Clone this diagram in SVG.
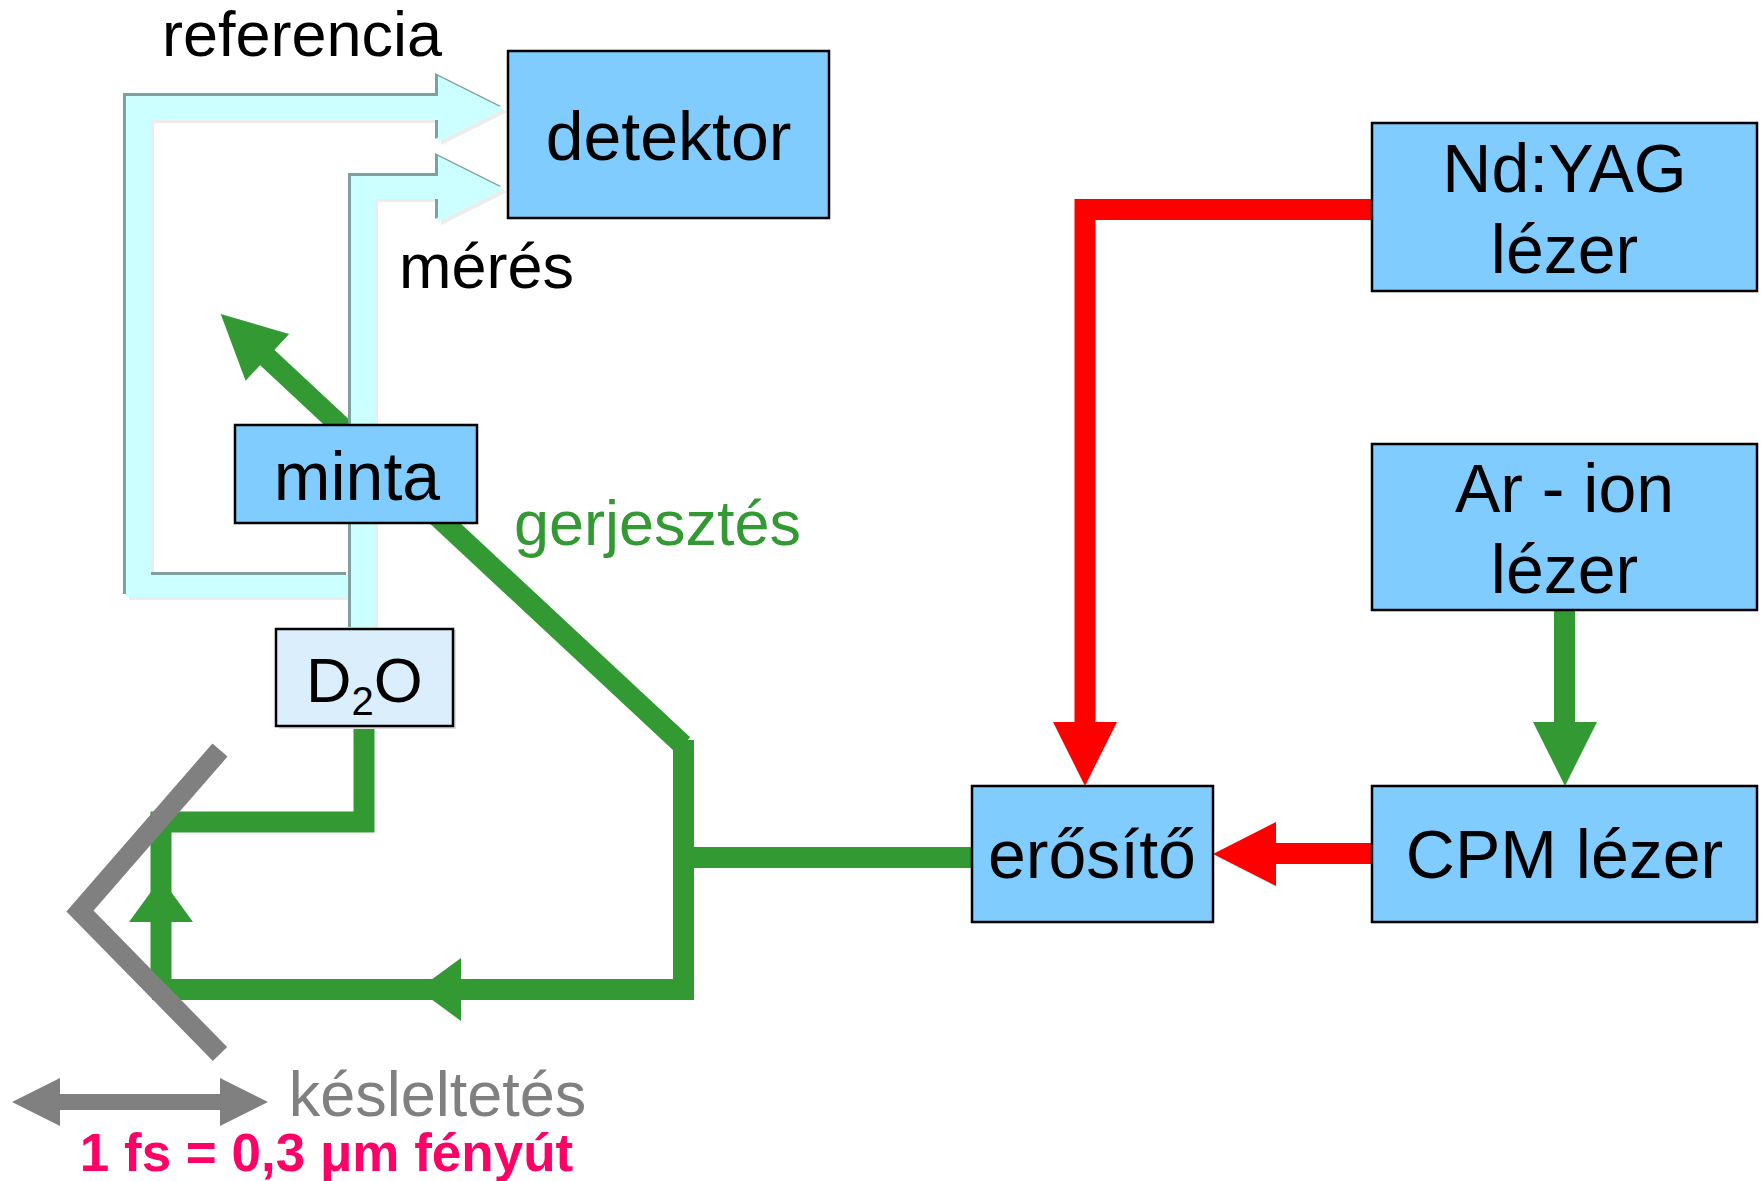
<svg xmlns="http://www.w3.org/2000/svg" width="1762" height="1181" viewBox="0 0 1762 1181">
<style>
  .box { fill: #80CCFF; stroke: #000; stroke-width: 2.5; }
  .boxl { fill: #DAEEFB; stroke: #000; stroke-width: 2.5; }
  .lbl { font-family: "Liberation Sans", Arial, sans-serif; font-size: 68px; fill: #000; text-anchor: middle; }
  .txt { font-family: "Liberation Sans", Arial, sans-serif; font-size: 63px; text-anchor: middle; }
  .g { fill: none; stroke: #339933; stroke-width: 21; stroke-linejoin: miter; stroke-linecap: butt; }
  .gf { fill: #339933; }
  .r { fill: none; stroke: #FF0000; stroke-width: 21; stroke-linejoin: miter; stroke-linecap: butt; }
  .rf { fill: #FF0000; }
  .cy { fill: #CCFFFF; }
  .cyedge { fill: #80A0A0; }
  .cyshadow { fill: #ECECEC; }
</style>
<defs>
  <polygon id="refShape" points="349,575 151,575 151,120 438,120 438,142 504,109 438,76 438,96 126,96 126,597 349,597"/>
  <polygon id="mesShape" points="351,630 351,176 438,176 438,156 504,189 438,222 438,199 375,199 375,630"/>
</defs>

<g id="connectors">
  <!-- green excitation path -->
  <line class="g" x1="258" y1="349" x2="683" y2="745"/>
  <polygon class="gf" points="220.7,314 289.2,333.9 245.6,380.7"/>
  <path class="g" d="M972,857.5 H683.5"/>
  <path class="g" d="M683.5,740 V989.5 H152"/>
  <polygon class="gf" points="418,989.5 461,958 461,1021"/>
  <path class="g" d="M161,989.5 V822 H364 V726"/>
  <polygon class="gf" points="161,878 129,922 193,922"/>
  <!-- Ar-ion to CPM -->
  <path class="g" d="M1564.5,610 V725"/>
  <polygon class="gf" points="1533,722 1597,722 1565,786"/>
  <!-- red paths -->
  <path class="r" d="M1372,209.5 H1085 V725"/>
  <polygon class="rf" points="1053,722 1117,722 1085,786"/>
  <path class="r" d="M1372,853.5 H1270"/>
  <polygon class="rf" points="1276,822 1276,886 1213,854"/>
  <!-- reference beam -->
  <g id="referencia-beam">
    <use href="#refShape" class="cyshadow" transform="translate(3,3)"/>
    <use href="#refShape" class="cyedge" transform="translate(-3,-3)"/>
    <use href="#refShape" class="cy"/>
  </g>
  <!-- measurement beam -->
  <g id="meres-beam">
    <use href="#mesShape" class="cyshadow" transform="translate(3,3)"/>
    <use href="#mesShape" class="cyedge" transform="translate(-3,-3)"/>
    <use href="#mesShape" class="cy"/>
  </g>
</g>

<g id="mirror">
  <polyline points="220,750 80,911 220,1054" fill="none" stroke="#808080" stroke-width="20" stroke-linejoin="miter" stroke-linecap="butt"/>
</g>

<g id="delay-arrow">
  <line x1="55" y1="1102" x2="225" y2="1102" stroke="#808080" stroke-width="16"/>
  <polygon points="12,1102 60,1078 60,1126" fill="#808080"/>
  <polygon points="268,1102 220,1078 220,1126" fill="#808080"/>
</g>

<g id="detektor">
  <rect class="box" x="508" y="51" width="321" height="167"/>
  <text class="lbl" x="668.5" y="160">detektor</text>
</g>

<g id="minta">
  <rect class="box" x="235" y="425" width="242" height="98"/>
  <text class="lbl" x="357" y="500">minta</text>
</g>

<g id="d2o">
  <rect x="279" y="630" width="177" height="99" fill="#DDDDDD"/>
  <rect class="boxl" x="276" y="629" width="177" height="97"/>
  <text class="txt" x="364.5" y="702" fill="#000">D<tspan font-size="40" dy="13">2</tspan><tspan dy="-13">O</tspan></text>
</g>

<g id="ndyag">
  <rect class="box" x="1372" y="123" width="385" height="168"/>
  <text class="lbl" x="1564.5" y="192">Nd:YAG</text>
  <text class="lbl" x="1564.5" y="273">lézer</text>
</g>

<g id="arion">
  <rect class="box" x="1372" y="444" width="385" height="166"/>
  <text class="lbl" x="1564.5" y="512">Ar - ion</text>
  <text class="lbl" x="1564.5" y="593">lézer</text>
</g>

<g id="cpm">
  <rect class="box" x="1372" y="786" width="385" height="136"/>
  <text class="lbl" x="1564.5" y="878">CPM lézer</text>
</g>

<g id="erosito">
  <rect class="box" x="972" y="786" width="241" height="136"/>
  <text class="lbl" x="1092" y="878">erősítő</text>
</g>

<g id="labels">
  <text class="txt" x="302" y="56" fill="#000">referencia</text>
  <text class="txt" x="486.5" y="288" fill="#000">mérés</text>
  <text class="txt" x="657.5" y="545" fill="#339933">gerjesztés</text>
  <text class="txt" x="437.5" y="1116" fill="#808080">késleltetés</text>
  <text x="326.5" y="1171" font-family="'Liberation Sans', Arial, sans-serif" font-size="53" font-weight="bold" fill="#FF0066" text-anchor="middle">1 fs = 0,3 μm fényút</text>
</g>
</svg>
